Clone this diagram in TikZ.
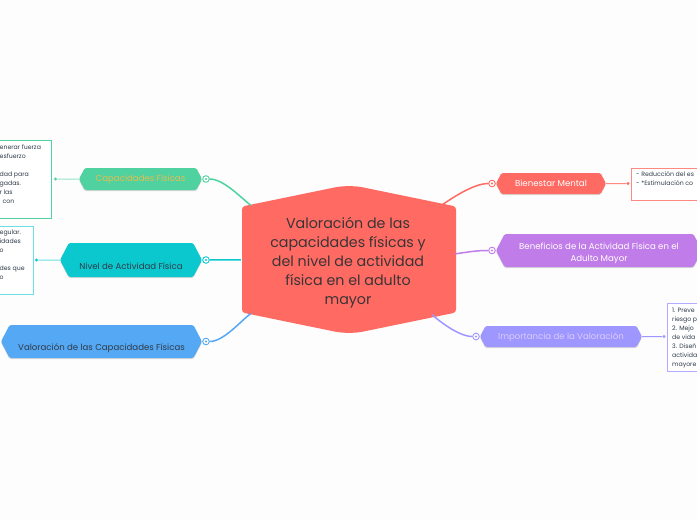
\documentclass[tikz,border=0pt]{standalone}
\usepackage{fontspec}
\setmainfont{Poppins}
\usetikzlibrary{calc,positioning,shapes.symbols,shadows}
\definecolor{coral}{HTML}{FF6B63}
\definecolor{mint}{HTML}{4FD1A0}
\definecolor{teal}{HTML}{0BC8CE}
\definecolor{sky}{HTML}{55A8F3}
\definecolor{violet}{HTML}{C07CE8}
\definecolor{lilac}{HTML}{9D97FF}
\definecolor{ink}{HTML}{2F3B4A}
\definecolor{gold}{HTML}{E9BC4C}
\definecolor{paleink}{HTML}{DCCBFB}
\definecolor{darkred}{HTML}{3A3436}
\begin{document}
\begin{tikzpicture}[x=1pt, y=-1pt,
    topic/.style={signal, signal to=east and west, signal pointer angle=125, fill=#1, rounded corners=1.5pt,
        inner xsep=0pt, inner ysep=0pt, align=center, font=\fontsize{8.6}{11.5}\selectfont,
        drop shadow={shadow xshift=0pt, shadow yshift=-1.2pt, opacity=.3}},
    hub/.style={circle, draw=#1, fill=white, line width=.9pt, inner sep=0pt, minimum size=6.6pt,
        path picture={\fill[#1] (path picture bounding box.center) circle (1.2pt);}},
    stubdot/.style={circle, fill=#1, inner sep=0pt, minimum size=3.4pt},
    notebox/.style={rectangle, draw=#1, line width=1pt, fill=white, inner sep=0pt},
    notetext/.style={align=left, inner sep=0pt, font=\fontsize{6.2}{9}\selectfont, text=ink},
    link/.style={line width=1.5pt, shorten >=#1},
    stub/.style={line width=1pt}]
    \useasboundingbox[fill={rgb,255:red,253;green,253;blue,253}] (0,0) rectangle (697,520);

    \fill[coral, shift={(349,259.5)}] (-107,0) [rounded corners=3pt] -- (-107,-53) [rounded corners=14pt] -- (0,-75)
        [rounded corners=3pt] -- (107,-53) -- (107,53) [rounded corners=14pt] -- (0,75) [rounded corners=3pt] -- (-107,53) -- cycle;
    \node[rectangle, minimum width=214pt, minimum height=106pt, inner sep=0pt, align=center, text=darkred,
        font=\fontsize{14.25}{19}\selectfont] (central) at (348,259.5)
        {\rule{0pt}{18pt}Valoración de las\\capacidades físicas y\\del nivel de actividad\\física en el adulto\\mayor};

    % left side
    \node[topic=mint, minimum width=123pt, minimum height=22pt, text=gold] (capfis) at (140.5,179) {Capacidades Físicas};
    \node[topic=teal, minimum width=142pt, minimum height=34pt, text=ink, text height=26pt, text depth=8pt] (nivel) at (131,260) {Nivel de Actividad Física};
    \node[topic=sky, minimum width=201pt, minimum height=33pt, text=ink, text height=25pt, text depth=8pt] (valcap) at (101.5,341.5) {Valoración de las Capacidades Físicas};

    \node[hub=mint, right=0pt of capfis] (caphub) {};
    \node[hub=teal, right=0pt of nivel] (nivhub) {};
    \node[hub=sky, right=0pt of valcap] (valhub) {};

    \node[notebox=mint, minimum width=112pt, minimum height=78pt, anchor=east] (capnote) at (52,179) {};
    \node[notebox=teal!60, minimum width=92pt, minimum height=68pt, anchor=east] (nivnote) at (33.5,260) {};
    \node[notetext, anchor=north west] (captext) at (-0.5,144.5)
        {enerar fuerza\\esfuerzo\\[9pt]dad para\\gadas.\\r las\\\hspace*{3pt}con};
    \node[notetext, anchor=north west] (nivtext) at (-0.5,230)
        {egular.\\idades\\o\\[9pt]des que\\o};
    \node[stubdot=mint] (capdot) at (55.5,179) {};
    \node[stubdot=teal] (nivdot) at (36.5,260) {};

    % right side
    \node[topic=coral, minimum width=110pt, minimum height=21pt, text=white] (mental) at (551,183.5) {Bienestar Mental};
    \node[topic=violet, minimum width=206pt, minimum height=33pt, text=white] (benef) at (599,250.5) {\rule{0pt}{12pt}Beneficios de la Actividad Física en el\\Adulto Mayor};
    \node[topic=lilac, minimum width=162pt, minimum height=21pt, text=paleink] (import) at (561,336.5) {\rule{0pt}{9pt}Importancia de la Valoración};

    \node[hub=coral, left=0pt of mental] (menhub) {};
    \node[hub=violet, left=0pt of benef] (benhub) {};
    \node[hub=lilac, left=0pt of import] (imphub) {};

    \node[notebox=coral!80, minimum width=90pt, minimum height=32pt, anchor=west] (mennote) at (631,184) {};
    \node[notebox=lilac!80, minimum width=60pt, minimum height=68pt, anchor=west] (impnote) at (667,337) {};
    \node[notetext, anchor=north west] (mentext) at (636,171)
        {- Reducción del es\\- *Estimulación co};
    \node[notetext, anchor=north west] (imptext) at (672,308)
        {1. Preve\\riesgo p\\2. Mejo\\de vida\\3. Diseñ\\activida\\mayore};
    \node[stubdot=coral] (mendot) at (628,183.5) {};
    \node[stubdot=lilac] (impdot) at (664,336.5) {};

    \draw[link=1.5pt, mint] (caphub) to[out=0, in=142, looseness=.7] (central.151);
    \draw[link=0pt, teal] (nivhub) -- (central);
    \draw[link=1.5pt, sky] (valhub) to[out=0, in=216, looseness=.7] (central.209);
    \draw[link=1.5pt, coral] (menhub) to[out=180, in=35, looseness=.7] (central.30);
    \draw[link=0pt, violet] (benhub) to[out=180, in=8] (central.3);
    \draw[link=3pt, lilac] (imphub) to[out=180, in=-42, looseness=.7] (central.-33);

    \draw[stub, mint!60] (capfis) -- (capdot);
    \draw[stub, teal!60] (nivel) -- (nivdot);
    \draw[stub, coral!80] (mental) -- (mendot);
    \draw[stub, lilac] (import) -- (impdot);
\end{tikzpicture}
\end{document}
